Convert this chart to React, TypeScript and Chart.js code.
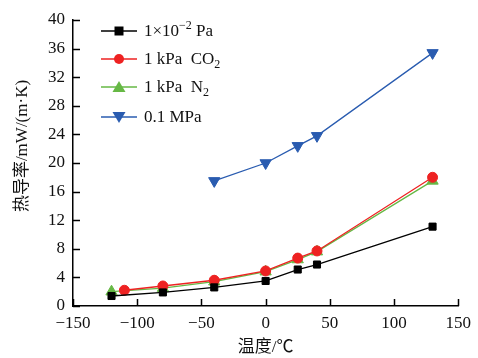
import React, { useEffect, useRef } from "react";
import { Chart, registerables } from "chart.js";

Chart.register(...registerables);

const vacuumT = [-120, -80, -40, 0, 25, 40, 130];
const vacuumK = [1.4, 1.9, 2.6, 3.5, 5.1, 5.8, 11.1];
const co2T = [-110, -80, -40, 0, 25, 40, 130];
const co2K = [2.2, 2.8, 3.6, 4.9, 6.7, 7.7, 18.0];
const n2T = [-120, -80, -40, 0, 25, 40, 130];
const n2K = [2.0, 2.5, 3.4, 4.8, 6.5, 7.6, 17.5];
const atmT = [-40, 0, 25, 40, 130];
const atmK = [17.5, 20.0, 22.4, 23.8, 35.4];

const xTicks = [-150, -100, -50, 0, 50, 100, 150];
const yTicks = [0, 4, 8, 12, 16, 20, 24, 28, 32, 36, 40];

const legendLabels = [
  [{ t: "1×10" }, { t: "−2", sup: true }, { t: " Pa" }],
  [{ t: "1 kPa  CO" }, { t: "2", sub: true }],
  [{ t: "1 kPa  N" }, { t: "2", sub: true }],
  [{ t: "0.1 MPa" }],
];

const xTitle = "温度/℃";
const yTitle = "热导率/mW/(m·K)";

const COLORS = ["#000000", "#ee2222", "#66b845", "#2a5cb0"];
const SERIF = "'Liberation Serif', 'DejaVu Serif', serif";
const CJK = "'Liberation Serif', 'Noto Sans CJK SC', serif";

Chart.defaults.font.family = SERIF;
Chart.defaults.font.size = 17;
Chart.defaults.color = "#111";

function drawMarker(ctx: CanvasRenderingContext2D, kind: string, x: number, y: number, color: string) {
  ctx.save();
  ctx.fillStyle = color;
  ctx.beginPath();
  if (kind === "rect") {
    ctx.rect(x - 4.5, y - 4.5, 9, 9);
  } else if (kind === "circle") {
    ctx.arc(x, y, 5, 0, Math.PI * 2);
  } else if (kind === "tri") {
    ctx.moveTo(x, y - 6);
    ctx.lineTo(x + 6.5, y + 5);
    ctx.lineTo(x - 6.5, y + 5);
    ctx.closePath();
  } else {
    ctx.moveTo(x, y + 6);
    ctx.lineTo(x + 6.5, y - 5);
    ctx.lineTo(x - 6.5, y - 5);
    ctx.closePath();
  }
  ctx.fill();
  ctx.restore();
}

const markerKinds = ["rect", "circle", "tri", "down"];

const customPlugin = {
  id: "custom",
  beforeDatasetsDraw(chart: any) {
    const ctx = chart.ctx;
    const x = chart.scales.x;
    const y = chart.scales.y;
    const area = chart.chartArea;
    ctx.save();
    ctx.strokeStyle = "#000";
    ctx.lineWidth = 1.5;
    ctx.beginPath();
    for (const v of xTicks) {
      const px = Math.round(x.getPixelForValue(v)) + 0.5;
      ctx.moveTo(px, area.bottom);
      ctx.lineTo(px, area.bottom - 7);
    }
    for (const v of yTicks) {
      const py = Math.round(y.getPixelForValue(v)) + 0.5;
      ctx.moveTo(area.left, py);
      ctx.lineTo(area.left + 7, py);
    }
    ctx.stroke();
    ctx.restore();
  },
  afterDraw(chart: any) {
    const ctx = chart.ctx;
    ctx.save();
    const rows = [31, 59, 87, 117];
    legendLabels.forEach((segs, i) => {
      const yy = rows[i];
      ctx.strokeStyle = COLORS[i];
      ctx.lineWidth = 1.3;
      ctx.beginPath();
      ctx.moveTo(101, yy);
      ctx.lineTo(137, yy);
      ctx.stroke();
      drawMarker(ctx, markerKinds[i], 119, yy, COLORS[i]);
      let tx = 144;
      ctx.fillStyle = "#111";
      ctx.textBaseline = "middle";
      ctx.textAlign = "left";
      for (const s of segs as any[]) {
        if (s.sup || s.sub) {
          ctx.font = `12px ${SERIF}`;
          ctx.fillText(s.t, tx, yy + (s.sup ? -5 : 6));
        } else {
          ctx.font = `17px ${SERIF}`;
          ctx.fillText(s.t, tx, yy + 1);
        }
        tx += ctx.measureText(s.t).width;
      }
    });
    ctx.translate(23, 146);
    ctx.rotate(-Math.PI / 2);
    ctx.font = `17px ${CJK}`;
    ctx.textAlign = "center";
    ctx.textBaseline = "middle";
    ctx.fillStyle = "#111";
    ctx.fillText(yTitle, 0, 0);
    ctx.restore();
  },
};

function mk(label: string, xs: number[], ys: number[], i: number, style: string, radius: number, rot = 0) {
  return {
    label,
    data: xs.map((v, k) => ({ x: v, y: ys[k] })),
    borderColor: COLORS[i],
    backgroundColor: COLORS[i],
    pointBackgroundColor: COLORS[i],
    pointBorderColor: COLORS[i],
    pointStyle: style,
    pointRadius: radius,
    pointRotation: rot,
    pointBorderWidth: 1,
    borderWidth: 1.3,
    tension: 0,
    showLine: true,
  };
}

export default function App() {
  const ref = useRef<HTMLCanvasElement>(null);
  useEffect(() => {
    document.body.style.margin = "0";
    const chart = new Chart(ref.current!, {
      type: "scatter",
      data: {
        datasets: [
          mk("1×10⁻² Pa", vacuumT, vacuumK, 0, "rect", 5),
          mk("1 kPa CO₂", co2T, co2K, 1, "circle", 5),
          mk("1 kPa N₂", n2T, n2K, 2, "triangle", 6.5),
          mk("0.1 MPa", atmT, atmK, 3, "triangle", 6.5, 180),
        ] as any,
      },
      options: {
        animation: false,
        responsive: false,
        layout: { padding: { top: 20, right: 18, left: 0, bottom: 0 } },
        plugins: { legend: { display: false }, tooltip: { enabled: false } },
        scales: {
          x: {
            type: "linear",
            min: -150,
            max: 150,
            afterFit: (s: any) => {
              s.height = 52;
            },
            afterBuildTicks: (s: any) => {
              s.ticks = xTicks.map((v) => ({ value: v }));
            },
            grid: { display: false, drawTicks: false },
            border: { display: true, color: "#000", width: 1.5 },
            ticks: {
              color: "#111",
              padding: 7,
              font: { family: SERIF, size: 17 },
              callback: (v: any) => String(v).replace("-", "−"),
            },
            title: {
              display: true,
              text: xTitle,
              color: "#111",
              font: { family: CJK, size: 17 },
              padding: { top: 0, bottom: 0 },
            },
          },
          y: {
            type: "linear",
            min: 0,
            max: 40,
            afterFit: (s: any) => {
              s.width = 73;
            },
            afterBuildTicks: (s: any) => {
              s.ticks = yTicks.map((v) => ({ value: v }));
            },
            grid: { display: false, drawTicks: false },
            border: { display: true, color: "#000", width: 1.5 },
            ticks: {
              color: "#111",
              padding: 8,
              font: { family: SERIF, size: 17 },
            },
          },
        },
      },
      plugins: [customPlugin],
    });
    return () => chart.destroy();
  }, []);
  return (
    <div style={{ width: 478, height: 358, background: "#fff" }}>
      <canvas ref={ref} width={478} height={358} />
    </div>
  );
}
